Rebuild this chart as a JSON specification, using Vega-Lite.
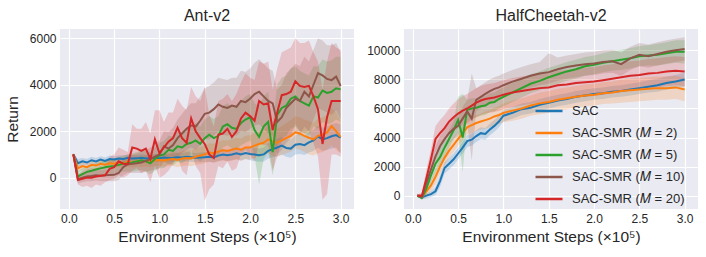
{
"$schema": "https://vega.github.io/schema/vega-lite/v6.json",
"background": "white",
"padding": {"left": 5, "top": 8, "right": 5, "bottom": 5},
"bounds": "flush",
"spacing": 50,
"config": {
  "font": "Liberation Sans",
  "view": {"fill": "#EAEAF2", "stroke": null},
  "axis": {"domain": false, "ticks": false, "grid": true, "gridColor": "white", "gridWidth": 1.2, "labelFontSize": 12, "labelColor": "#262626", "titleColor": "#262626", "titleFontSize": 15.5, "titleFontWeight": "normal", "labelPadding": 4, "labelOverlap": false},
  "title": {"fontSize": 16, "fontWeight": "normal", "color": "#262626", "offset": 5}
},
"resolve": {"scale": {"stroke": "independent", "fill": "independent"}, "legend": {"stroke": "independent", "fill": "independent"}},
"datasets": {
"ant": [
{"m":"SAC","x":0.05,"y":1000,"lo":900,"hi":1050},{"m":"SAC","x":0.1,"y":620,"lo":450,"hi":800},{"m":"SAC","x":0.15,"y":700,"lo":550,"hi":850},{"m":"SAC","x":0.2,"y":650,"lo":520,"hi":800},{"m":"SAC","x":0.25,"y":750,"lo":600,"hi":900},{"m":"SAC","x":0.3,"y":700,"lo":560,"hi":850},{"m":"SAC","x":0.35,"y":780,"lo":640,"hi":920},{"m":"SAC","x":0.4,"y":720,"lo":580,"hi":870},{"m":"SAC","x":0.45,"y":800,"lo":650,"hi":950},{"m":"SAC","x":0.5,"y":780,"lo":640,"hi":920},{"m":"SAC","x":0.55,"y":820,"lo":680,"hi":960},{"m":"SAC","x":0.6,"y":800,"lo":650,"hi":950},{"m":"SAC","x":0.65,"y":850,"lo":700,"hi":1000},{"m":"SAC","x":0.7,"y":820,"lo":680,"hi":980},{"m":"SAC","x":0.75,"y":830,"lo":690,"hi":980},{"m":"SAC","x":0.8,"y":860,"lo":700,"hi":1010},{"m":"SAC","x":0.85,"y":820,"lo":680,"hi":970},{"m":"SAC","x":0.9,"y":850,"lo":700,"hi":1000},{"m":"SAC","x":0.95,"y":860,"lo":700,"hi":1020},{"m":"SAC","x":1.0,"y":840,"lo":680,"hi":1000},{"m":"SAC","x":1.05,"y":870,"lo":700,"hi":1040},{"m":"SAC","x":1.1,"y":850,"lo":690,"hi":1010},{"m":"SAC","x":1.15,"y":860,"lo":680,"hi":1040},{"m":"SAC","x":1.2,"y":880,"lo":700,"hi":1060},{"m":"SAC","x":1.25,"y":870,"lo":690,"hi":1050},{"m":"SAC","x":1.3,"y":900,"lo":700,"hi":1100},{"m":"SAC","x":1.35,"y":880,"lo":680,"hi":1080},{"m":"SAC","x":1.4,"y":860,"lo":660,"hi":1060},{"m":"SAC","x":1.45,"y":870,"lo":660,"hi":1080},{"m":"SAC","x":1.5,"y":880,"lo":670,"hi":1090},{"m":"SAC","x":1.55,"y":900,"lo":680,"hi":1120},{"m":"SAC","x":1.6,"y":870,"lo":650,"hi":1090},{"m":"SAC","x":1.65,"y":950,"lo":720,"hi":1180},{"m":"SAC","x":1.7,"y":1000,"lo":760,"hi":1240},{"m":"SAC","x":1.75,"y":960,"lo":720,"hi":1200},{"m":"SAC","x":1.8,"y":1000,"lo":750,"hi":1250},{"m":"SAC","x":1.85,"y":1050,"lo":800,"hi":1300},{"m":"SAC","x":1.9,"y":1000,"lo":740,"hi":1260},{"m":"SAC","x":1.95,"y":1060,"lo":800,"hi":1320},{"m":"SAC","x":2.0,"y":1020,"lo":750,"hi":1290},{"m":"SAC","x":2.05,"y":1000,"lo":720,"hi":1280},{"m":"SAC","x":2.1,"y":960,"lo":680,"hi":1250},{"m":"SAC","x":2.15,"y":1000,"lo":700,"hi":1300},{"m":"SAC","x":2.2,"y":1150,"lo":820,"hi":1480},{"m":"SAC","x":2.25,"y":1230,"lo":880,"hi":1580},{"m":"SAC","x":2.3,"y":1300,"lo":920,"hi":1680},{"m":"SAC","x":2.35,"y":1380,"lo":1000,"hi":1760},{"m":"SAC","x":2.4,"y":1280,"lo":900,"hi":1660},{"m":"SAC","x":2.45,"y":1250,"lo":860,"hi":1640},{"m":"SAC","x":2.5,"y":1420,"lo":1000,"hi":1840},{"m":"SAC","x":2.55,"y":1450,"lo":1020,"hi":1880},{"m":"SAC","x":2.6,"y":1400,"lo":980,"hi":1820},{"m":"SAC","x":2.65,"y":1520,"lo":1080,"hi":1960},{"m":"SAC","x":2.7,"y":1600,"lo":1150,"hi":2050},{"m":"SAC","x":2.75,"y":1780,"lo":1300,"hi":2250},{"m":"SAC","x":2.8,"y":1650,"lo":1150,"hi":2150},{"m":"SAC","x":2.85,"y":1700,"lo":1200,"hi":2200},{"m":"SAC","x":2.9,"y":1780,"lo":1250,"hi":2300},{"m":"SAC","x":2.95,"y":1830,"lo":1300,"hi":2350},{"m":"SAC","x":3.0,"y":1720,"lo":1050,"hi":2300},
{"m":"SAC-SMR (𝑀 = 2)","x":0.05,"y":1000,"lo":900,"hi":1050},{"m":"SAC-SMR (𝑀 = 2)","x":0.1,"y":400,"lo":250,"hi":600},{"m":"SAC-SMR (𝑀 = 2)","x":0.15,"y":500,"lo":330,"hi":680},{"m":"SAC-SMR (𝑀 = 2)","x":0.2,"y":450,"lo":300,"hi":620},{"m":"SAC-SMR (𝑀 = 2)","x":0.25,"y":550,"lo":380,"hi":720},{"m":"SAC-SMR (𝑀 = 2)","x":0.3,"y":520,"lo":350,"hi":700},{"m":"SAC-SMR (𝑀 = 2)","x":0.35,"y":600,"lo":420,"hi":780},{"m":"SAC-SMR (𝑀 = 2)","x":0.4,"y":560,"lo":380,"hi":740},{"m":"SAC-SMR (𝑀 = 2)","x":0.45,"y":620,"lo":440,"hi":800},{"m":"SAC-SMR (𝑀 = 2)","x":0.5,"y":600,"lo":420,"hi":790},{"m":"SAC-SMR (𝑀 = 2)","x":0.55,"y":650,"lo":460,"hi":840},{"m":"SAC-SMR (𝑀 = 2)","x":0.6,"y":620,"lo":420,"hi":820},{"m":"SAC-SMR (𝑀 = 2)","x":0.65,"y":680,"lo":480,"hi":880},{"m":"SAC-SMR (𝑀 = 2)","x":0.7,"y":650,"lo":440,"hi":860},{"m":"SAC-SMR (𝑀 = 2)","x":0.75,"y":700,"lo":480,"hi":920},{"m":"SAC-SMR (𝑀 = 2)","x":0.8,"y":680,"lo":450,"hi":910},{"m":"SAC-SMR (𝑀 = 2)","x":0.85,"y":720,"lo":480,"hi":960},{"m":"SAC-SMR (𝑀 = 2)","x":0.9,"y":700,"lo":450,"hi":950},{"m":"SAC-SMR (𝑀 = 2)","x":0.95,"y":750,"lo":500,"hi":1000},{"m":"SAC-SMR (𝑀 = 2)","x":1.0,"y":760,"lo":500,"hi":1020},{"m":"SAC-SMR (𝑀 = 2)","x":1.05,"y":740,"lo":470,"hi":1010},{"m":"SAC-SMR (𝑀 = 2)","x":1.1,"y":780,"lo":500,"hi":1060},{"m":"SAC-SMR (𝑀 = 2)","x":1.15,"y":800,"lo":500,"hi":1100},{"m":"SAC-SMR (𝑀 = 2)","x":1.2,"y":760,"lo":450,"hi":1070},{"m":"SAC-SMR (𝑀 = 2)","x":1.25,"y":820,"lo":500,"hi":1140},{"m":"SAC-SMR (𝑀 = 2)","x":1.3,"y":850,"lo":520,"hi":1180},{"m":"SAC-SMR (𝑀 = 2)","x":1.35,"y":830,"lo":490,"hi":1170},{"m":"SAC-SMR (𝑀 = 2)","x":1.4,"y":900,"lo":550,"hi":1250},{"m":"SAC-SMR (𝑀 = 2)","x":1.45,"y":950,"lo":580,"hi":1320},{"m":"SAC-SMR (𝑀 = 2)","x":1.5,"y":1000,"lo":620,"hi":1380},{"m":"SAC-SMR (𝑀 = 2)","x":1.55,"y":1080,"lo":680,"hi":1480},{"m":"SAC-SMR (𝑀 = 2)","x":1.6,"y":1050,"lo":640,"hi":1460},{"m":"SAC-SMR (𝑀 = 2)","x":1.65,"y":1120,"lo":700,"hi":1540},{"m":"SAC-SMR (𝑀 = 2)","x":1.7,"y":1180,"lo":740,"hi":1620},{"m":"SAC-SMR (𝑀 = 2)","x":1.75,"y":1150,"lo":700,"hi":1600},{"m":"SAC-SMR (𝑀 = 2)","x":1.8,"y":1200,"lo":740,"hi":1660},{"m":"SAC-SMR (𝑀 = 2)","x":1.85,"y":1250,"lo":780,"hi":1720},{"m":"SAC-SMR (𝑀 = 2)","x":1.9,"y":1200,"lo":720,"hi":1680},{"m":"SAC-SMR (𝑀 = 2)","x":1.95,"y":1300,"lo":800,"hi":1800},{"m":"SAC-SMR (𝑀 = 2)","x":2.0,"y":1300,"lo":780,"hi":1820},{"m":"SAC-SMR (𝑀 = 2)","x":2.05,"y":1380,"lo":850,"hi":1910},{"m":"SAC-SMR (𝑀 = 2)","x":2.1,"y":1450,"lo":900,"hi":2000},{"m":"SAC-SMR (𝑀 = 2)","x":2.15,"y":1500,"lo":940,"hi":2060},{"m":"SAC-SMR (𝑀 = 2)","x":2.2,"y":1650,"lo":1050,"hi":2250},{"m":"SAC-SMR (𝑀 = 2)","x":2.25,"y":1550,"lo":950,"hi":2150},{"m":"SAC-SMR (𝑀 = 2)","x":2.3,"y":1500,"lo":900,"hi":2100},{"m":"SAC-SMR (𝑀 = 2)","x":2.35,"y":1600,"lo":980,"hi":2220},{"m":"SAC-SMR (𝑀 = 2)","x":2.4,"y":1700,"lo":1050,"hi":2350},{"m":"SAC-SMR (𝑀 = 2)","x":2.45,"y":1800,"lo":1120,"hi":2480},{"m":"SAC-SMR (𝑀 = 2)","x":2.5,"y":1950,"lo":1250,"hi":2650},{"m":"SAC-SMR (𝑀 = 2)","x":2.55,"y":1900,"lo":1200,"hi":2600},{"m":"SAC-SMR (𝑀 = 2)","x":2.6,"y":1800,"lo":1100,"hi":2500},{"m":"SAC-SMR (𝑀 = 2)","x":2.65,"y":1720,"lo":1000,"hi":2440},{"m":"SAC-SMR (𝑀 = 2)","x":2.7,"y":1650,"lo":950,"hi":2350},{"m":"SAC-SMR (𝑀 = 2)","x":2.75,"y":1800,"lo":1050,"hi":2550},{"m":"SAC-SMR (𝑀 = 2)","x":2.8,"y":1850,"lo":1100,"hi":2600},{"m":"SAC-SMR (𝑀 = 2)","x":2.85,"y":1950,"lo":1200,"hi":2700},{"m":"SAC-SMR (𝑀 = 2)","x":2.9,"y":2220,"lo":1400,"hi":3000},{"m":"SAC-SMR (𝑀 = 2)","x":2.95,"y":2000,"lo":1200,"hi":2800},{"m":"SAC-SMR (𝑀 = 2)","x":3.0,"y":1750,"lo":1050,"hi":2450},
{"m":"SAC-SMR (𝑀 = 5)","x":0.05,"y":1000,"lo":900,"hi":1050},{"m":"SAC-SMR (𝑀 = 5)","x":0.1,"y":50,"lo":-150,"hi":300},{"m":"SAC-SMR (𝑀 = 5)","x":0.15,"y":150,"lo":-80,"hi":400},{"m":"SAC-SMR (𝑀 = 5)","x":0.2,"y":250,"lo":0,"hi":500},{"m":"SAC-SMR (𝑀 = 5)","x":0.25,"y":300,"lo":50,"hi":560},{"m":"SAC-SMR (𝑀 = 5)","x":0.3,"y":350,"lo":80,"hi":620},{"m":"SAC-SMR (𝑀 = 5)","x":0.35,"y":400,"lo":120,"hi":680},{"m":"SAC-SMR (𝑀 = 5)","x":0.4,"y":450,"lo":150,"hi":750},{"m":"SAC-SMR (𝑀 = 5)","x":0.45,"y":480,"lo":170,"hi":800},{"m":"SAC-SMR (𝑀 = 5)","x":0.5,"y":500,"lo":180,"hi":820},{"m":"SAC-SMR (𝑀 = 5)","x":0.55,"y":550,"lo":220,"hi":880},{"m":"SAC-SMR (𝑀 = 5)","x":0.6,"y":600,"lo":250,"hi":950},{"m":"SAC-SMR (𝑀 = 5)","x":0.65,"y":620,"lo":250,"hi":1000},{"m":"SAC-SMR (𝑀 = 5)","x":0.7,"y":650,"lo":250,"hi":1050},{"m":"SAC-SMR (𝑀 = 5)","x":0.75,"y":700,"lo":300,"hi":1100},{"m":"SAC-SMR (𝑀 = 5)","x":0.8,"y":750,"lo":320,"hi":1180},{"m":"SAC-SMR (𝑀 = 5)","x":0.85,"y":700,"lo":250,"hi":1150},{"m":"SAC-SMR (𝑀 = 5)","x":0.9,"y":620,"lo":150,"hi":1100},{"m":"SAC-SMR (𝑀 = 5)","x":0.95,"y":800,"lo":300,"hi":1300},{"m":"SAC-SMR (𝑀 = 5)","x":1.0,"y":950,"lo":400,"hi":1500},{"m":"SAC-SMR (𝑀 = 5)","x":1.05,"y":1000,"lo":420,"hi":1580},{"m":"SAC-SMR (𝑀 = 5)","x":1.1,"y":1200,"lo":600,"hi":1800},{"m":"SAC-SMR (𝑀 = 5)","x":1.15,"y":1150,"lo":520,"hi":1780},{"m":"SAC-SMR (𝑀 = 5)","x":1.2,"y":1350,"lo":700,"hi":2000},{"m":"SAC-SMR (𝑀 = 5)","x":1.25,"y":1300,"lo":620,"hi":1980},{"m":"SAC-SMR (𝑀 = 5)","x":1.3,"y":1450,"lo":750,"hi":2150},{"m":"SAC-SMR (𝑀 = 5)","x":1.35,"y":1500,"lo":780,"hi":2220},{"m":"SAC-SMR (𝑀 = 5)","x":1.4,"y":1600,"lo":850,"hi":2350},{"m":"SAC-SMR (𝑀 = 5)","x":1.45,"y":1450,"lo":700,"hi":2200},{"m":"SAC-SMR (𝑀 = 5)","x":1.5,"y":1700,"lo":900,"hi":2500},{"m":"SAC-SMR (𝑀 = 5)","x":1.55,"y":1850,"lo":1050,"hi":2650},{"m":"SAC-SMR (𝑀 = 5)","x":1.6,"y":1700,"lo":880,"hi":2520},{"m":"SAC-SMR (𝑀 = 5)","x":1.65,"y":1800,"lo":950,"hi":2650},{"m":"SAC-SMR (𝑀 = 5)","x":1.7,"y":2200,"lo":1300,"hi":3100},{"m":"SAC-SMR (𝑀 = 5)","x":1.75,"y":2300,"lo":1400,"hi":3200},{"m":"SAC-SMR (𝑀 = 5)","x":1.8,"y":2150,"lo":1250,"hi":3050},{"m":"SAC-SMR (𝑀 = 5)","x":1.85,"y":2100,"lo":1200,"hi":3000},{"m":"SAC-SMR (𝑀 = 5)","x":1.9,"y":2350,"lo":1400,"hi":3300},{"m":"SAC-SMR (𝑀 = 5)","x":1.95,"y":2500,"lo":1500,"hi":3500},{"m":"SAC-SMR (𝑀 = 5)","x":2.0,"y":2600,"lo":1600,"hi":3600},{"m":"SAC-SMR (𝑀 = 5)","x":2.05,"y":2050,"lo":900,"hi":3200},{"m":"SAC-SMR (𝑀 = 5)","x":2.1,"y":1750,"lo":-300,"hi":3100},{"m":"SAC-SMR (𝑀 = 5)","x":2.15,"y":2200,"lo":800,"hi":3500},{"m":"SAC-SMR (𝑀 = 5)","x":2.2,"y":2400,"lo":1100,"hi":3700},{"m":"SAC-SMR (𝑀 = 5)","x":2.25,"y":1100,"lo":100,"hi":2300},{"m":"SAC-SMR (𝑀 = 5)","x":2.3,"y":2700,"lo":1400,"hi":4000},{"m":"SAC-SMR (𝑀 = 5)","x":2.35,"y":3000,"lo":1700,"hi":4300},{"m":"SAC-SMR (𝑀 = 5)","x":2.4,"y":3100,"lo":1800,"hi":4400},{"m":"SAC-SMR (𝑀 = 5)","x":2.45,"y":3400,"lo":2100,"hi":4700},{"m":"SAC-SMR (𝑀 = 5)","x":2.5,"y":3500,"lo":2200,"hi":4800},{"m":"SAC-SMR (𝑀 = 5)","x":2.55,"y":3300,"lo":2000,"hi":4600},{"m":"SAC-SMR (𝑀 = 5)","x":2.6,"y":3200,"lo":1900,"hi":4500},{"m":"SAC-SMR (𝑀 = 5)","x":2.65,"y":3100,"lo":1800,"hi":4400},{"m":"SAC-SMR (𝑀 = 5)","x":2.7,"y":3500,"lo":2200,"hi":4800},{"m":"SAC-SMR (𝑀 = 5)","x":2.75,"y":3450,"lo":2100,"hi":4800},{"m":"SAC-SMR (𝑀 = 5)","x":2.8,"y":3750,"lo":2400,"hi":5100},{"m":"SAC-SMR (𝑀 = 5)","x":2.85,"y":3650,"lo":2300,"hi":5000},{"m":"SAC-SMR (𝑀 = 5)","x":2.9,"y":3700,"lo":2350,"hi":5050},{"m":"SAC-SMR (𝑀 = 5)","x":2.95,"y":3850,"lo":2500,"hi":5200},{"m":"SAC-SMR (𝑀 = 5)","x":3.0,"y":3800,"lo":2400,"hi":5200},
{"m":"SAC-SMR (𝑀 = 10)","x":0.05,"y":1000,"lo":900,"hi":1050},{"m":"SAC-SMR (𝑀 = 10)","x":0.1,"y":-80,"lo":-250,"hi":100},{"m":"SAC-SMR (𝑀 = 10)","x":0.15,"y":0,"lo":-200,"hi":200},{"m":"SAC-SMR (𝑀 = 10)","x":0.2,"y":50,"lo":-150,"hi":250},{"m":"SAC-SMR (𝑀 = 10)","x":0.25,"y":70,"lo":-150,"hi":300},{"m":"SAC-SMR (𝑀 = 10)","x":0.3,"y":100,"lo":-120,"hi":320},{"m":"SAC-SMR (𝑀 = 10)","x":0.35,"y":80,"lo":-150,"hi":320},{"m":"SAC-SMR (𝑀 = 10)","x":0.4,"y":100,"lo":-150,"hi":350},{"m":"SAC-SMR (𝑀 = 10)","x":0.45,"y":110,"lo":-150,"hi":380},{"m":"SAC-SMR (𝑀 = 10)","x":0.5,"y":120,"lo":-150,"hi":400},{"m":"SAC-SMR (𝑀 = 10)","x":0.55,"y":200,"lo":-100,"hi":500},{"m":"SAC-SMR (𝑀 = 10)","x":0.6,"y":450,"lo":100,"hi":800},{"m":"SAC-SMR (𝑀 = 10)","x":0.65,"y":580,"lo":200,"hi":950},{"m":"SAC-SMR (𝑀 = 10)","x":0.7,"y":600,"lo":200,"hi":1000},{"m":"SAC-SMR (𝑀 = 10)","x":0.75,"y":620,"lo":200,"hi":1050},{"m":"SAC-SMR (𝑀 = 10)","x":0.8,"y":650,"lo":200,"hi":1100},{"m":"SAC-SMR (𝑀 = 10)","x":0.85,"y":720,"lo":250,"hi":1200},{"m":"SAC-SMR (𝑀 = 10)","x":0.9,"y":800,"lo":300,"hi":1300},{"m":"SAC-SMR (𝑀 = 10)","x":0.95,"y":900,"lo":350,"hi":1450},{"m":"SAC-SMR (𝑀 = 10)","x":1.0,"y":1000,"lo":400,"hi":1600},{"m":"SAC-SMR (𝑀 = 10)","x":1.05,"y":1350,"lo":700,"hi":2000},{"m":"SAC-SMR (𝑀 = 10)","x":1.1,"y":1250,"lo":550,"hi":1950},{"m":"SAC-SMR (𝑀 = 10)","x":1.15,"y":1400,"lo":650,"hi":2150},{"m":"SAC-SMR (𝑀 = 10)","x":1.2,"y":1700,"lo":900,"hi":2500},{"m":"SAC-SMR (𝑀 = 10)","x":1.25,"y":1900,"lo":1050,"hi":2750},{"m":"SAC-SMR (𝑀 = 10)","x":1.3,"y":2100,"lo":1200,"hi":3000},{"m":"SAC-SMR (𝑀 = 10)","x":1.35,"y":2250,"lo":1300,"hi":3200},{"m":"SAC-SMR (𝑀 = 10)","x":1.4,"y":2200,"lo":1200,"hi":3200},{"m":"SAC-SMR (𝑀 = 10)","x":1.45,"y":2450,"lo":1400,"hi":3500},{"m":"SAC-SMR (𝑀 = 10)","x":1.5,"y":2750,"lo":1650,"hi":3850},{"m":"SAC-SMR (𝑀 = 10)","x":1.55,"y":2800,"lo":1650,"hi":3950},{"m":"SAC-SMR (𝑀 = 10)","x":1.6,"y":2950,"lo":1800,"hi":4100},{"m":"SAC-SMR (𝑀 = 10)","x":1.65,"y":3150,"lo":2000,"hi":4300},{"m":"SAC-SMR (𝑀 = 10)","x":1.7,"y":3050,"lo":1850,"hi":4250},{"m":"SAC-SMR (𝑀 = 10)","x":1.75,"y":3000,"lo":1800,"hi":4200},{"m":"SAC-SMR (𝑀 = 10)","x":1.8,"y":3100,"lo":1900,"hi":4300},{"m":"SAC-SMR (𝑀 = 10)","x":1.85,"y":3050,"lo":1800,"hi":4300},{"m":"SAC-SMR (𝑀 = 10)","x":1.9,"y":3300,"lo":2000,"hi":4600},{"m":"SAC-SMR (𝑀 = 10)","x":1.95,"y":3250,"lo":1950,"hi":4550},{"m":"SAC-SMR (𝑀 = 10)","x":2.0,"y":3400,"lo":2100,"hi":4700},{"m":"SAC-SMR (𝑀 = 10)","x":2.05,"y":3600,"lo":2250,"hi":4950},{"m":"SAC-SMR (𝑀 = 10)","x":2.1,"y":3700,"lo":2300,"hi":5100},{"m":"SAC-SMR (𝑀 = 10)","x":2.15,"y":3500,"lo":2100,"hi":4900},{"m":"SAC-SMR (𝑀 = 10)","x":2.2,"y":3300,"lo":1900,"hi":4700},{"m":"SAC-SMR (𝑀 = 10)","x":2.25,"y":3200,"lo":1800,"hi":4600},{"m":"SAC-SMR (𝑀 = 10)","x":2.3,"y":2400,"lo":1000,"hi":3800},{"m":"SAC-SMR (𝑀 = 10)","x":2.35,"y":2600,"lo":1200,"hi":4000},{"m":"SAC-SMR (𝑀 = 10)","x":2.4,"y":3000,"lo":1500,"hi":4500},{"m":"SAC-SMR (𝑀 = 10)","x":2.45,"y":3200,"lo":1700,"hi":4700},{"m":"SAC-SMR (𝑀 = 10)","x":2.5,"y":3400,"lo":1900,"hi":4900},{"m":"SAC-SMR (𝑀 = 10)","x":2.55,"y":3300,"lo":1800,"hi":4800},{"m":"SAC-SMR (𝑀 = 10)","x":2.6,"y":3700,"lo":2200,"hi":5200},{"m":"SAC-SMR (𝑀 = 10)","x":2.65,"y":3500,"lo":2000,"hi":5000},{"m":"SAC-SMR (𝑀 = 10)","x":2.7,"y":4000,"lo":2500,"hi":5500},{"m":"SAC-SMR (𝑀 = 10)","x":2.75,"y":4500,"lo":3000,"hi":6000},{"m":"SAC-SMR (𝑀 = 10)","x":2.8,"y":4400,"lo":2900,"hi":5900},{"m":"SAC-SMR (𝑀 = 10)","x":2.85,"y":4250,"lo":2800,"hi":5700},{"m":"SAC-SMR (𝑀 = 10)","x":2.9,"y":4200,"lo":2700,"hi":5700},{"m":"SAC-SMR (𝑀 = 10)","x":2.95,"y":4350,"lo":2900,"hi":5800},{"m":"SAC-SMR (𝑀 = 10)","x":3.0,"y":3950,"lo":2500,"hi":5400},
{"m":"SAC-SMR (𝑀 = 20)","x":0.05,"y":1000,"lo":900,"hi":1050},{"m":"SAC-SMR (𝑀 = 20)","x":0.1,"y":-100,"lo":-300,"hi":100},{"m":"SAC-SMR (𝑀 = 20)","x":0.15,"y":-50,"lo":-400,"hi":300},{"m":"SAC-SMR (𝑀 = 20)","x":0.2,"y":0,"lo":-350,"hi":350},{"m":"SAC-SMR (𝑀 = 20)","x":0.25,"y":0,"lo":-450,"hi":400},{"m":"SAC-SMR (𝑀 = 20)","x":0.3,"y":50,"lo":-300,"hi":400},{"m":"SAC-SMR (𝑀 = 20)","x":0.35,"y":80,"lo":-350,"hi":500},{"m":"SAC-SMR (𝑀 = 20)","x":0.4,"y":100,"lo":-200,"hi":450},{"m":"SAC-SMR (𝑀 = 20)","x":0.45,"y":380,"lo":-100,"hi":900},{"m":"SAC-SMR (𝑀 = 20)","x":0.5,"y":450,"lo":-50,"hi":1000},{"m":"SAC-SMR (𝑀 = 20)","x":0.55,"y":700,"lo":100,"hi":1300},{"m":"SAC-SMR (𝑀 = 20)","x":0.6,"y":600,"lo":0,"hi":1200},{"m":"SAC-SMR (𝑀 = 20)","x":0.65,"y":580,"lo":100,"hi":1100},{"m":"SAC-SMR (𝑀 = 20)","x":0.7,"y":1300,"lo":300,"hi":2300},{"m":"SAC-SMR (𝑀 = 20)","x":0.75,"y":1250,"lo":400,"hi":2100},{"m":"SAC-SMR (𝑀 = 20)","x":0.8,"y":1150,"lo":200,"hi":2100},{"m":"SAC-SMR (𝑀 = 20)","x":0.85,"y":1250,"lo":300,"hi":2400},{"m":"SAC-SMR (𝑀 = 20)","x":0.9,"y":800,"lo":-200,"hi":1900},{"m":"SAC-SMR (𝑀 = 20)","x":0.95,"y":1650,"lo":500,"hi":2900},{"m":"SAC-SMR (𝑀 = 20)","x":1.0,"y":1050,"lo":0,"hi":2900},{"m":"SAC-SMR (𝑀 = 20)","x":1.05,"y":1300,"lo":100,"hi":2400},{"m":"SAC-SMR (𝑀 = 20)","x":1.1,"y":1550,"lo":300,"hi":2800},{"m":"SAC-SMR (𝑀 = 20)","x":1.15,"y":1700,"lo":600,"hi":2800},{"m":"SAC-SMR (𝑀 = 20)","x":1.2,"y":2150,"lo":900,"hi":3400},{"m":"SAC-SMR (𝑀 = 20)","x":1.25,"y":1700,"lo":300,"hi":3100},{"m":"SAC-SMR (𝑀 = 20)","x":1.3,"y":1500,"lo":100,"hi":2900},{"m":"SAC-SMR (𝑀 = 20)","x":1.35,"y":2550,"lo":1200,"hi":3900},{"m":"SAC-SMR (𝑀 = 20)","x":1.4,"y":2000,"lo":500,"hi":3500},{"m":"SAC-SMR (𝑀 = 20)","x":1.45,"y":1700,"lo":200,"hi":3300},{"m":"SAC-SMR (𝑀 = 20)","x":1.5,"y":1450,"lo":-1000,"hi":3900},{"m":"SAC-SMR (𝑀 = 20)","x":1.55,"y":1000,"lo":-500,"hi":2700},{"m":"SAC-SMR (𝑀 = 20)","x":1.6,"y":850,"lo":-300,"hi":2200},{"m":"SAC-SMR (𝑀 = 20)","x":1.65,"y":1850,"lo":500,"hi":3300},{"m":"SAC-SMR (𝑀 = 20)","x":1.7,"y":1900,"lo":400,"hi":3400},{"m":"SAC-SMR (𝑀 = 20)","x":1.75,"y":2100,"lo":700,"hi":3600},{"m":"SAC-SMR (𝑀 = 20)","x":1.8,"y":1750,"lo":300,"hi":3300},{"m":"SAC-SMR (𝑀 = 20)","x":1.85,"y":2000,"lo":400,"hi":3600},{"m":"SAC-SMR (𝑀 = 20)","x":1.9,"y":2550,"lo":1000,"hi":4100},{"m":"SAC-SMR (𝑀 = 20)","x":1.95,"y":2800,"lo":1200,"hi":4500},{"m":"SAC-SMR (𝑀 = 20)","x":2.0,"y":2650,"lo":1000,"hi":4300},{"m":"SAC-SMR (𝑀 = 20)","x":2.05,"y":2450,"lo":700,"hi":4200},{"m":"SAC-SMR (𝑀 = 20)","x":2.1,"y":3300,"lo":1500,"hi":5000},{"m":"SAC-SMR (𝑀 = 20)","x":2.15,"y":3150,"lo":1400,"hi":4900},{"m":"SAC-SMR (𝑀 = 20)","x":2.2,"y":3200,"lo":1400,"hi":5000},{"m":"SAC-SMR (𝑀 = 20)","x":2.25,"y":2050,"lo":300,"hi":3800},{"m":"SAC-SMR (𝑀 = 20)","x":2.3,"y":2800,"lo":900,"hi":4700},{"m":"SAC-SMR (𝑀 = 20)","x":2.35,"y":3550,"lo":1600,"hi":5400},{"m":"SAC-SMR (𝑀 = 20)","x":2.4,"y":3600,"lo":1700,"hi":5500},{"m":"SAC-SMR (𝑀 = 20)","x":2.45,"y":3700,"lo":1800,"hi":5600},{"m":"SAC-SMR (𝑀 = 20)","x":2.5,"y":4150,"lo":2300,"hi":6000},{"m":"SAC-SMR (𝑀 = 20)","x":2.55,"y":3950,"lo":2000,"hi":5800},{"m":"SAC-SMR (𝑀 = 20)","x":2.6,"y":3900,"lo":1900,"hi":5800},{"m":"SAC-SMR (𝑀 = 20)","x":2.65,"y":3950,"lo":2000,"hi":5900},{"m":"SAC-SMR (𝑀 = 20)","x":2.7,"y":3500,"lo":1500,"hi":5400},{"m":"SAC-SMR (𝑀 = 20)","x":2.75,"y":2950,"lo":900,"hi":5000},{"m":"SAC-SMR (𝑀 = 20)","x":2.8,"y":1450,"lo":-950,"hi":3800},{"m":"SAC-SMR (𝑀 = 20)","x":2.85,"y":2600,"lo":-700,"hi":5000},{"m":"SAC-SMR (𝑀 = 20)","x":2.9,"y":3300,"lo":1000,"hi":5800},{"m":"SAC-SMR (𝑀 = 20)","x":2.95,"y":3300,"lo":1000,"hi":5600},{"m":"SAC-SMR (𝑀 = 20)","x":3.0,"y":3300,"lo":900,"hi":5500}
],
"cheetah": [
{"m":"SAC","x":0.05,"y":0,"lo":-100,"hi":100},{"m":"SAC","x":0.1,"y":-100,"lo":-250,"hi":50},{"m":"SAC","x":0.15,"y":0,"lo":-200,"hi":150},{"m":"SAC","x":0.2,"y":100,"lo":-100,"hi":300},{"m":"SAC","x":0.25,"y":300,"lo":50,"hi":600},{"m":"SAC","x":0.3,"y":1000,"lo":600,"hi":1400},{"m":"SAC","x":0.35,"y":1900,"lo":1500,"hi":2300},{"m":"SAC","x":0.4,"y":2200,"lo":1800,"hi":2600},{"m":"SAC","x":0.45,"y":2500,"lo":2100,"hi":2900},{"m":"SAC","x":0.5,"y":2900,"lo":2500,"hi":3300},{"m":"SAC","x":0.55,"y":3300,"lo":2900,"hi":3700},{"m":"SAC","x":0.6,"y":3750,"lo":3350,"hi":4150},{"m":"SAC","x":0.65,"y":3850,"lo":3450,"hi":4250},{"m":"SAC","x":0.7,"y":4100,"lo":3700,"hi":4500},{"m":"SAC","x":0.75,"y":4300,"lo":3900,"hi":4700},{"m":"SAC","x":0.8,"y":4250,"lo":3850,"hi":4650},{"m":"SAC","x":0.85,"y":4550,"lo":4150,"hi":4950},{"m":"SAC","x":0.9,"y":4800,"lo":4400,"hi":5200},{"m":"SAC","x":0.95,"y":5100,"lo":4700,"hi":5500},{"m":"SAC","x":1.0,"y":5500,"lo":5100,"hi":5900},{"m":"SAC","x":1.1,"y":5700,"lo":5300,"hi":6100},{"m":"SAC","x":1.2,"y":5950,"lo":5550,"hi":6350},{"m":"SAC","x":1.3,"y":6050,"lo":5650,"hi":6450},{"m":"SAC","x":1.4,"y":6250,"lo":5850,"hi":6650},{"m":"SAC","x":1.5,"y":6400,"lo":6000,"hi":6800},{"m":"SAC","x":1.6,"y":6550,"lo":6150,"hi":6950},{"m":"SAC","x":1.7,"y":6650,"lo":6250,"hi":7050},{"m":"SAC","x":1.8,"y":6800,"lo":6400,"hi":7200},{"m":"SAC","x":1.9,"y":6900,"lo":6500,"hi":7300},{"m":"SAC","x":2.0,"y":7000,"lo":6600,"hi":7400},{"m":"SAC","x":2.1,"y":7050,"lo":6650,"hi":7450},{"m":"SAC","x":2.2,"y":7150,"lo":6750,"hi":7550},{"m":"SAC","x":2.3,"y":7200,"lo":6800,"hi":7600},{"m":"SAC","x":2.4,"y":7300,"lo":6900,"hi":7700},{"m":"SAC","x":2.5,"y":7400,"lo":7000,"hi":7800},{"m":"SAC","x":2.6,"y":7500,"lo":7100,"hi":7950},{"m":"SAC","x":2.7,"y":7600,"lo":7150,"hi":8050},{"m":"SAC","x":2.8,"y":7750,"lo":7300,"hi":8200},{"m":"SAC","x":2.9,"y":7850,"lo":7400,"hi":8300},{"m":"SAC","x":3.0,"y":8000,"lo":7500,"hi":8450},
{"m":"SAC-SMR (𝑀 = 2)","x":0.05,"y":0,"lo":-100,"hi":100},{"m":"SAC-SMR (𝑀 = 2)","x":0.1,"y":-100,"lo":-250,"hi":100},{"m":"SAC-SMR (𝑀 = 2)","x":0.15,"y":300,"lo":0,"hi":600},{"m":"SAC-SMR (𝑀 = 2)","x":0.2,"y":700,"lo":300,"hi":1100},{"m":"SAC-SMR (𝑀 = 2)","x":0.25,"y":1300,"lo":800,"hi":1800},{"m":"SAC-SMR (𝑀 = 2)","x":0.3,"y":2000,"lo":1500,"hi":2500},{"m":"SAC-SMR (𝑀 = 2)","x":0.35,"y":2600,"lo":2100,"hi":3100},{"m":"SAC-SMR (𝑀 = 2)","x":0.4,"y":3100,"lo":2600,"hi":3600},{"m":"SAC-SMR (𝑀 = 2)","x":0.45,"y":3500,"lo":3000,"hi":4000},{"m":"SAC-SMR (𝑀 = 2)","x":0.5,"y":3900,"lo":3400,"hi":4400},{"m":"SAC-SMR (𝑀 = 2)","x":0.55,"y":4300,"lo":3800,"hi":4800},{"m":"SAC-SMR (𝑀 = 2)","x":0.6,"y":4700,"lo":4200,"hi":5200},{"m":"SAC-SMR (𝑀 = 2)","x":0.65,"y":4850,"lo":4300,"hi":5400},{"m":"SAC-SMR (𝑀 = 2)","x":0.7,"y":5000,"lo":4450,"hi":5550},{"m":"SAC-SMR (𝑀 = 2)","x":0.75,"y":5100,"lo":4550,"hi":5650},{"m":"SAC-SMR (𝑀 = 2)","x":0.8,"y":5200,"lo":4600,"hi":5800},{"m":"SAC-SMR (𝑀 = 2)","x":0.85,"y":5300,"lo":4700,"hi":5900},{"m":"SAC-SMR (𝑀 = 2)","x":0.9,"y":5450,"lo":4850,"hi":6050},{"m":"SAC-SMR (𝑀 = 2)","x":0.95,"y":5550,"lo":4950,"hi":6150},{"m":"SAC-SMR (𝑀 = 2)","x":1.0,"y":5700,"lo":5050,"hi":6350},{"m":"SAC-SMR (𝑀 = 2)","x":1.1,"y":5850,"lo":5150,"hi":6550},{"m":"SAC-SMR (𝑀 = 2)","x":1.2,"y":6000,"lo":5300,"hi":6700},{"m":"SAC-SMR (𝑀 = 2)","x":1.3,"y":6200,"lo":5500,"hi":6900},{"m":"SAC-SMR (𝑀 = 2)","x":1.4,"y":6350,"lo":5600,"hi":7100},{"m":"SAC-SMR (𝑀 = 2)","x":1.5,"y":6450,"lo":5700,"hi":7200},{"m":"SAC-SMR (𝑀 = 2)","x":1.6,"y":6600,"lo":5850,"hi":7350},{"m":"SAC-SMR (𝑀 = 2)","x":1.7,"y":6700,"lo":5950,"hi":7450},{"m":"SAC-SMR (𝑀 = 2)","x":1.8,"y":6800,"lo":6050,"hi":7550},{"m":"SAC-SMR (𝑀 = 2)","x":1.9,"y":6900,"lo":6150,"hi":7650},{"m":"SAC-SMR (𝑀 = 2)","x":2.0,"y":6950,"lo":6200,"hi":7700},{"m":"SAC-SMR (𝑀 = 2)","x":2.1,"y":7050,"lo":6300,"hi":7800},{"m":"SAC-SMR (𝑀 = 2)","x":2.2,"y":7100,"lo":6350,"hi":7850},{"m":"SAC-SMR (𝑀 = 2)","x":2.3,"y":7200,"lo":6400,"hi":8000},{"m":"SAC-SMR (𝑀 = 2)","x":2.4,"y":7250,"lo":6450,"hi":8050},{"m":"SAC-SMR (𝑀 = 2)","x":2.5,"y":7300,"lo":6500,"hi":8100},{"m":"SAC-SMR (𝑀 = 2)","x":2.6,"y":7350,"lo":6550,"hi":8150},{"m":"SAC-SMR (𝑀 = 2)","x":2.7,"y":7400,"lo":6600,"hi":8200},{"m":"SAC-SMR (𝑀 = 2)","x":2.8,"y":7400,"lo":6600,"hi":8200},{"m":"SAC-SMR (𝑀 = 2)","x":2.9,"y":7450,"lo":6650,"hi":8250},{"m":"SAC-SMR (𝑀 = 2)","x":3.0,"y":7300,"lo":6500,"hi":8100},
{"m":"SAC-SMR (𝑀 = 5)","x":0.05,"y":0,"lo":-100,"hi":100},{"m":"SAC-SMR (𝑀 = 5)","x":0.1,"y":-150,"lo":-300,"hi":50},{"m":"SAC-SMR (𝑀 = 5)","x":0.15,"y":500,"lo":100,"hi":900},{"m":"SAC-SMR (𝑀 = 5)","x":0.2,"y":1400,"lo":900,"hi":1900},{"m":"SAC-SMR (𝑀 = 5)","x":0.25,"y":2200,"lo":1600,"hi":2800},{"m":"SAC-SMR (𝑀 = 5)","x":0.3,"y":2650,"lo":2100,"hi":3300},{"m":"SAC-SMR (𝑀 = 5)","x":0.35,"y":3300,"lo":2700,"hi":3900},{"m":"SAC-SMR (𝑀 = 5)","x":0.4,"y":3900,"lo":3300,"hi":4500},{"m":"SAC-SMR (𝑀 = 5)","x":0.45,"y":4500,"lo":3900,"hi":5100},{"m":"SAC-SMR (𝑀 = 5)","x":0.5,"y":5200,"lo":4400,"hi":6800},{"m":"SAC-SMR (𝑀 = 5)","x":0.55,"y":4000,"lo":1600,"hi":7000},{"m":"SAC-SMR (𝑀 = 5)","x":0.6,"y":5900,"lo":5200,"hi":6600},{"m":"SAC-SMR (𝑀 = 5)","x":0.65,"y":6000,"lo":5300,"hi":6700},{"m":"SAC-SMR (𝑀 = 5)","x":0.7,"y":6050,"lo":5400,"hi":6700},{"m":"SAC-SMR (𝑀 = 5)","x":0.75,"y":6150,"lo":5500,"hi":6800},{"m":"SAC-SMR (𝑀 = 5)","x":0.8,"y":6200,"lo":5550,"hi":6850},{"m":"SAC-SMR (𝑀 = 5)","x":0.85,"y":6400,"lo":5750,"hi":7050},{"m":"SAC-SMR (𝑀 = 5)","x":0.9,"y":6450,"lo":5800,"hi":7100},{"m":"SAC-SMR (𝑀 = 5)","x":0.95,"y":6650,"lo":6000,"hi":7300},{"m":"SAC-SMR (𝑀 = 5)","x":1.0,"y":6800,"lo":6150,"hi":7450},{"m":"SAC-SMR (𝑀 = 5)","x":1.1,"y":7100,"lo":6450,"hi":7750},{"m":"SAC-SMR (𝑀 = 5)","x":1.2,"y":7400,"lo":6750,"hi":8050},{"m":"SAC-SMR (𝑀 = 5)","x":1.3,"y":7700,"lo":7050,"hi":8350},{"m":"SAC-SMR (𝑀 = 5)","x":1.4,"y":7900,"lo":7250,"hi":8550},{"m":"SAC-SMR (𝑀 = 5)","x":1.5,"y":8150,"lo":7500,"hi":8800},{"m":"SAC-SMR (𝑀 = 5)","x":1.6,"y":8350,"lo":7700,"hi":9000},{"m":"SAC-SMR (𝑀 = 5)","x":1.7,"y":8550,"lo":7900,"hi":9200},{"m":"SAC-SMR (𝑀 = 5)","x":1.8,"y":8700,"lo":8050,"hi":9350},{"m":"SAC-SMR (𝑀 = 5)","x":1.9,"y":8900,"lo":8250,"hi":9550},{"m":"SAC-SMR (𝑀 = 5)","x":2.0,"y":9000,"lo":8350,"hi":9650},{"m":"SAC-SMR (𝑀 = 5)","x":2.1,"y":9150,"lo":8500,"hi":9800},{"m":"SAC-SMR (𝑀 = 5)","x":2.2,"y":9250,"lo":8600,"hi":9950},{"m":"SAC-SMR (𝑀 = 5)","x":2.3,"y":9350,"lo":8650,"hi":10050},{"m":"SAC-SMR (𝑀 = 5)","x":2.4,"y":9450,"lo":8750,"hi":10150},{"m":"SAC-SMR (𝑀 = 5)","x":2.5,"y":9600,"lo":8900,"hi":10300},{"m":"SAC-SMR (𝑀 = 5)","x":2.6,"y":9650,"lo":8950,"hi":10350},{"m":"SAC-SMR (𝑀 = 5)","x":2.7,"y":9700,"lo":8950,"hi":10450},{"m":"SAC-SMR (𝑀 = 5)","x":2.8,"y":9800,"lo":9050,"hi":10550},{"m":"SAC-SMR (𝑀 = 5)","x":2.9,"y":9900,"lo":9150,"hi":10700},{"m":"SAC-SMR (𝑀 = 5)","x":3.0,"y":9900,"lo":9100,"hi":10700},
{"m":"SAC-SMR (𝑀 = 10)","x":0.05,"y":0,"lo":-100,"hi":100},{"m":"SAC-SMR (𝑀 = 10)","x":0.1,"y":-100,"lo":-250,"hi":100},{"m":"SAC-SMR (𝑀 = 10)","x":0.15,"y":900,"lo":400,"hi":1400},{"m":"SAC-SMR (𝑀 = 10)","x":0.2,"y":1800,"lo":1200,"hi":2400},{"m":"SAC-SMR (𝑀 = 10)","x":0.25,"y":2700,"lo":2000,"hi":3400},{"m":"SAC-SMR (𝑀 = 10)","x":0.3,"y":3400,"lo":2700,"hi":4100},{"m":"SAC-SMR (𝑀 = 10)","x":0.35,"y":3900,"lo":3200,"hi":4600},{"m":"SAC-SMR (𝑀 = 10)","x":0.4,"y":4300,"lo":3600,"hi":5000},{"m":"SAC-SMR (𝑀 = 10)","x":0.45,"y":4600,"lo":3900,"hi":5300},{"m":"SAC-SMR (𝑀 = 10)","x":0.5,"y":4800,"lo":4100,"hi":5500},{"m":"SAC-SMR (𝑀 = 10)","x":0.55,"y":5300,"lo":4500,"hi":6100},{"m":"SAC-SMR (𝑀 = 10)","x":0.6,"y":5800,"lo":5000,"hi":6600},{"m":"SAC-SMR (𝑀 = 10)","x":0.65,"y":5300,"lo":2400,"hi":8400},{"m":"SAC-SMR (𝑀 = 10)","x":0.7,"y":6600,"lo":5800,"hi":7400},{"m":"SAC-SMR (𝑀 = 10)","x":0.75,"y":6800,"lo":6000,"hi":7600},{"m":"SAC-SMR (𝑀 = 10)","x":0.8,"y":7000,"lo":6200,"hi":7800},{"m":"SAC-SMR (𝑀 = 10)","x":0.85,"y":7200,"lo":6400,"hi":8000},{"m":"SAC-SMR (𝑀 = 10)","x":0.9,"y":7350,"lo":6550,"hi":8150},{"m":"SAC-SMR (𝑀 = 10)","x":0.95,"y":7450,"lo":6650,"hi":8250},{"m":"SAC-SMR (𝑀 = 10)","x":1.0,"y":7600,"lo":6800,"hi":8400},{"m":"SAC-SMR (𝑀 = 10)","x":1.1,"y":7850,"lo":7050,"hi":8650},{"m":"SAC-SMR (𝑀 = 10)","x":1.2,"y":8050,"lo":7250,"hi":8850},{"m":"SAC-SMR (𝑀 = 10)","x":1.3,"y":8250,"lo":7450,"hi":9050},{"m":"SAC-SMR (𝑀 = 10)","x":1.4,"y":8400,"lo":7600,"hi":9200},{"m":"SAC-SMR (𝑀 = 10)","x":1.5,"y":8500,"lo":7700,"hi":9800},{"m":"SAC-SMR (𝑀 = 10)","x":1.6,"y":8700,"lo":7900,"hi":9500},{"m":"SAC-SMR (𝑀 = 10)","x":1.7,"y":8850,"lo":8050,"hi":9650},{"m":"SAC-SMR (𝑀 = 10)","x":1.8,"y":8950,"lo":8150,"hi":9750},{"m":"SAC-SMR (𝑀 = 10)","x":1.9,"y":9050,"lo":8250,"hi":9850},{"m":"SAC-SMR (𝑀 = 10)","x":2.0,"y":9100,"lo":8300,"hi":9900},{"m":"SAC-SMR (𝑀 = 10)","x":2.1,"y":9200,"lo":8400,"hi":10000},{"m":"SAC-SMR (𝑀 = 10)","x":2.2,"y":9250,"lo":8450,"hi":10050},{"m":"SAC-SMR (𝑀 = 10)","x":2.3,"y":9050,"lo":8250,"hi":9850},{"m":"SAC-SMR (𝑀 = 10)","x":2.4,"y":9450,"lo":8650,"hi":10250},{"m":"SAC-SMR (𝑀 = 10)","x":2.5,"y":9700,"lo":8900,"hi":10500},{"m":"SAC-SMR (𝑀 = 10)","x":2.6,"y":9600,"lo":8800,"hi":10400},{"m":"SAC-SMR (𝑀 = 10)","x":2.7,"y":9750,"lo":8950,"hi":10550},{"m":"SAC-SMR (𝑀 = 10)","x":2.8,"y":9900,"lo":9100,"hi":10700},{"m":"SAC-SMR (𝑀 = 10)","x":2.9,"y":10000,"lo":9200,"hi":10800},{"m":"SAC-SMR (𝑀 = 10)","x":3.0,"y":10100,"lo":9300,"hi":10900},
{"m":"SAC-SMR (𝑀 = 20)","x":0.05,"y":0,"lo":-100,"hi":100},{"m":"SAC-SMR (𝑀 = 20)","x":0.1,"y":0,"lo":-150,"hi":200},{"m":"SAC-SMR (𝑀 = 20)","x":0.15,"y":1200,"lo":600,"hi":1800},{"m":"SAC-SMR (𝑀 = 20)","x":0.2,"y":2500,"lo":1800,"hi":3200},{"m":"SAC-SMR (𝑀 = 20)","x":0.25,"y":3900,"lo":3000,"hi":4800},{"m":"SAC-SMR (𝑀 = 20)","x":0.3,"y":4300,"lo":3400,"hi":5200},{"m":"SAC-SMR (𝑀 = 20)","x":0.35,"y":4650,"lo":3750,"hi":5550},{"m":"SAC-SMR (𝑀 = 20)","x":0.4,"y":5100,"lo":4200,"hi":6000},{"m":"SAC-SMR (𝑀 = 20)","x":0.45,"y":5400,"lo":4450,"hi":6350},{"m":"SAC-SMR (𝑀 = 20)","x":0.5,"y":5650,"lo":4650,"hi":6650},{"m":"SAC-SMR (𝑀 = 20)","x":0.55,"y":5850,"lo":4850,"hi":6850},{"m":"SAC-SMR (𝑀 = 20)","x":0.6,"y":6000,"lo":5000,"hi":7000},{"m":"SAC-SMR (𝑀 = 20)","x":0.65,"y":6200,"lo":5200,"hi":7200},{"m":"SAC-SMR (𝑀 = 20)","x":0.7,"y":6400,"lo":5400,"hi":7400},{"m":"SAC-SMR (𝑀 = 20)","x":0.75,"y":6550,"lo":5550,"hi":7550},{"m":"SAC-SMR (𝑀 = 20)","x":0.8,"y":6650,"lo":5650,"hi":7650},{"m":"SAC-SMR (𝑀 = 20)","x":0.85,"y":6700,"lo":5700,"hi":7700},{"m":"SAC-SMR (𝑀 = 20)","x":0.9,"y":6750,"lo":5750,"hi":7750},{"m":"SAC-SMR (𝑀 = 20)","x":0.95,"y":6850,"lo":5850,"hi":7850},{"m":"SAC-SMR (𝑀 = 20)","x":1.0,"y":6950,"lo":5950,"hi":7950},{"m":"SAC-SMR (𝑀 = 20)","x":1.1,"y":7100,"lo":6100,"hi":8100},{"m":"SAC-SMR (𝑀 = 20)","x":1.2,"y":7200,"lo":6200,"hi":8200},{"m":"SAC-SMR (𝑀 = 20)","x":1.3,"y":7300,"lo":6300,"hi":8300},{"m":"SAC-SMR (𝑀 = 20)","x":1.4,"y":7400,"lo":6400,"hi":8400},{"m":"SAC-SMR (𝑀 = 20)","x":1.5,"y":7450,"lo":6450,"hi":8450},{"m":"SAC-SMR (𝑀 = 20)","x":1.6,"y":7600,"lo":6600,"hi":8600},{"m":"SAC-SMR (𝑀 = 20)","x":1.7,"y":7650,"lo":6650,"hi":8650},{"m":"SAC-SMR (𝑀 = 20)","x":1.8,"y":7750,"lo":6750,"hi":8750},{"m":"SAC-SMR (𝑀 = 20)","x":1.9,"y":7800,"lo":6800,"hi":8800},{"m":"SAC-SMR (𝑀 = 20)","x":2.0,"y":7850,"lo":6850,"hi":8850},{"m":"SAC-SMR (𝑀 = 20)","x":2.1,"y":7950,"lo":6950,"hi":8950},{"m":"SAC-SMR (𝑀 = 20)","x":2.2,"y":8050,"lo":7050,"hi":9050},{"m":"SAC-SMR (𝑀 = 20)","x":2.3,"y":8150,"lo":7150,"hi":9150},{"m":"SAC-SMR (𝑀 = 20)","x":2.4,"y":8250,"lo":7250,"hi":9250},{"m":"SAC-SMR (𝑀 = 20)","x":2.5,"y":8300,"lo":7300,"hi":9300},{"m":"SAC-SMR (𝑀 = 20)","x":2.6,"y":8400,"lo":7400,"hi":9400},{"m":"SAC-SMR (𝑀 = 20)","x":2.7,"y":8450,"lo":7450,"hi":9450},{"m":"SAC-SMR (𝑀 = 20)","x":2.8,"y":8550,"lo":7550,"hi":9550},{"m":"SAC-SMR (𝑀 = 20)","x":2.9,"y":8600,"lo":7600,"hi":9600},{"m":"SAC-SMR (𝑀 = 20)","x":3.0,"y":8550,"lo":7550,"hi":9550}
]
},
"hconcat": [
{
  "title": "Ant-v2",
  "width": 294, "height": 180,
  "data": {"name": "ant"},
  "encoding": {
    "x": {"field": "x", "type": "quantitative", "scale": {"domain": [-0.0975, 3.1475], "nice": false, "zero": false}, "axis": {"values": [0, 0.5, 1, 1.5, 2, 2.5, 3], "format": ".1f", "title": "Environment Steps (×10⁵)", "titlePadding": 5}}
  },
  "layer": [
    {"mark": {"type": "area", "opacity": 0.2, "clip": true},
     "encoding": {
       "y": {"field": "lo", "type": "quantitative", "scale": {"domain": [-1350, 6400], "nice": false, "zero": false}, "axis": {"values": [0, 2000, 4000, 6000], "format": "d", "title": "Return", "titlePadding": 9, "labelOverlap": false}},
       "y2": {"field": "hi"},
       "fill": {"field": "m", "type": "nominal", "scale": {"domain": ["SAC-SMR (𝑀 = 20)", "SAC-SMR (𝑀 = 10)", "SAC-SMR (𝑀 = 5)", "SAC-SMR (𝑀 = 2)", "SAC"], "range": ["#d62728", "#8c564b", "#2ca02c", "#ff7f0e", "#1f77b4"]}, "legend": null}
     }},
    {"mark": {"type": "line", "strokeWidth": 2, "clip": true},
     "encoding": {
       "y": {"field": "y", "type": "quantitative", "axis": {"values": [0, 2000, 4000, 6000], "format": "d", "title": "Return", "titlePadding": 9, "labelOverlap": false}},
       "stroke": {"field": "m", "type": "nominal", "scale": {"domain": ["SAC", "SAC-SMR (𝑀 = 2)", "SAC-SMR (𝑀 = 5)", "SAC-SMR (𝑀 = 10)", "SAC-SMR (𝑀 = 20)"], "range": ["#1f77b4", "#ff7f0e", "#2ca02c", "#8c564b", "#d62728"]}, "legend": null}
     }}
  ]
},
{
  "title": "HalfCheetah-v2",
  "width": 294, "height": 180,
  "data": {"name": "cheetah"},
  "encoding": {
    "x": {"field": "x", "type": "quantitative", "scale": {"domain": [-0.0975, 3.1475], "nice": false, "zero": false}, "axis": {"values": [0, 0.5, 1, 1.5, 2, 2.5, 3], "format": ".1f", "title": "Environment Steps (×10⁵)", "titlePadding": 5}}
  },
  "layer": [
    {"mark": {"type": "area", "opacity": 0.2, "clip": true},
     "encoding": {
       "y": {"field": "lo", "type": "quantitative", "scale": {"domain": [-920, 11470], "nice": false, "zero": false}, "axis": {"values": [0, 2000, 4000, 6000, 8000, 10000], "format": "d", "title": null, "labelOverlap": false}},
       "y2": {"field": "hi"},
       "fill": {"field": "m", "type": "nominal", "scale": {"domain": ["SAC-SMR (𝑀 = 20)", "SAC-SMR (𝑀 = 10)", "SAC-SMR (𝑀 = 5)", "SAC-SMR (𝑀 = 2)", "SAC"], "range": ["#d62728", "#8c564b", "#2ca02c", "#ff7f0e", "#1f77b4"]}, "legend": null}
     }},
    {"mark": {"type": "line", "strokeWidth": 2, "clip": true},
     "encoding": {
       "y": {"field": "y", "type": "quantitative", "axis": {"values": [0, 2000, 4000, 6000, 8000, 10000], "format": "d", "title": null, "labelOverlap": false}},
       "stroke": {"field": "m", "type": "nominal", "scale": {"domain": ["SAC", "SAC-SMR (𝑀 = 2)", "SAC-SMR (𝑀 = 5)", "SAC-SMR (𝑀 = 10)", "SAC-SMR (𝑀 = 20)"], "range": ["#1f77b4", "#ff7f0e", "#2ca02c", "#8c564b", "#d62728"]},
         "legend": {"orient": "none", "legendX": 130, "legendY": 67, "zindex": 5, "padding": 0, "title": null, "symbolType": "stroke", "symbolSize": 729, "symbolStrokeWidth": 2.5, "labelFontSize": 13, "labelColor": "#262626", "labelOffset": 8, "rowPadding": -12.5, "labelLimit": 300}}
     }}
  ]
}
]
}
